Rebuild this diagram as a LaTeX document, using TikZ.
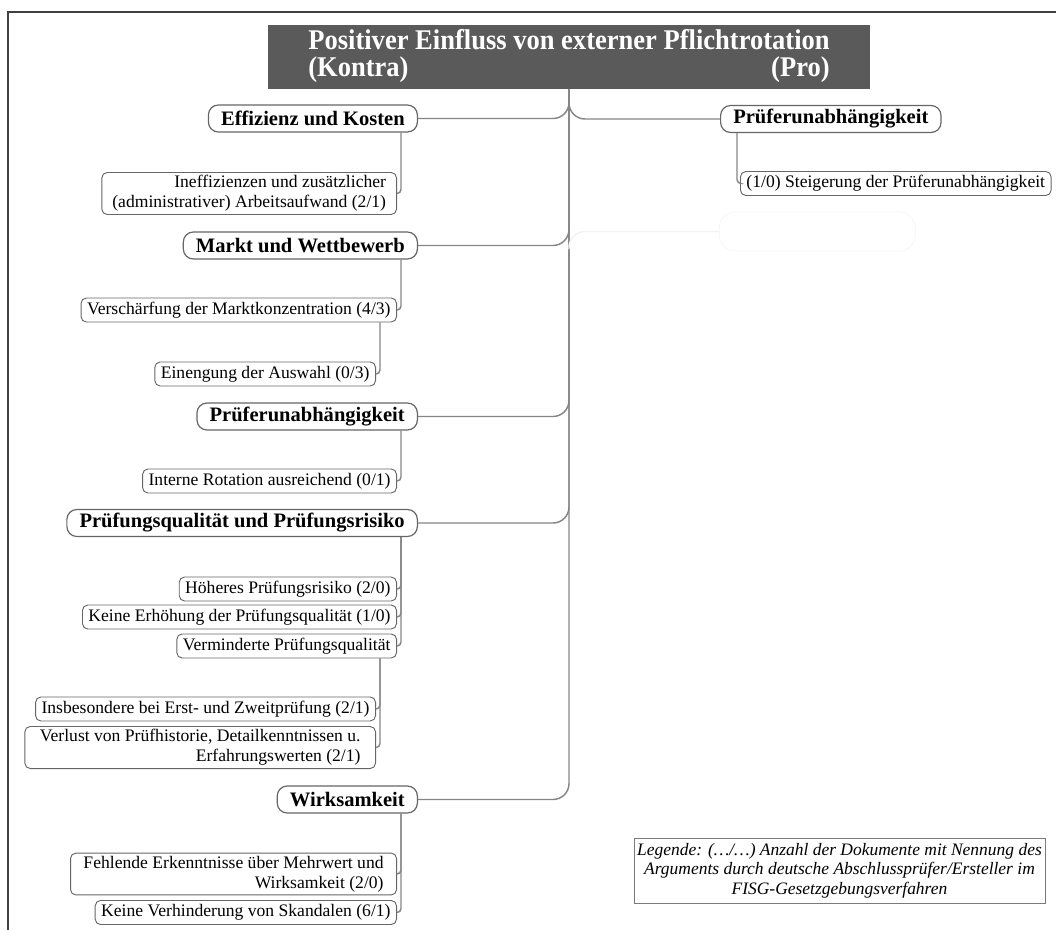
\documentclass[tikz,border=0pt]{standalone}
\usepackage{fontspec}
\usepackage{graphicx}
\setmainfont{Liberation Serif}
\usetikzlibrary{calc}

\definecolor{titlegray}{HTML}{5A5A5A}
\definecolor{framegray}{HTML}{404040}
\definecolor{boxline}{HTML}{666666}
\definecolor{linkgray}{HTML}{868686}
\definecolor{legendline}{HTML}{7A7A7A}
\definecolor{faintgray}{HTML}{F3F3F3}

\newlength\toplinewd

\tikzset{
  heading/.style={draw=boxline, line width=0.9pt, rounded corners=7.5pt, fill=white,
    font=\fontsize{15.4}{18}\selectfont\bfseries, inner xsep=9.5pt, inner ysep=0pt,
    minimum height=20.25pt},
  leaf/.style={draw=boxline, line width=0.7pt, rounded corners=4pt, fill=white,
    font=\fontsize{13.2}{15}\selectfont, inner xsep=4.5pt, inner ysep=2.2pt,
    minimum height=18pt, align=right},
  link/.style={draw=linkgray, line width=1.1pt},
  trunklink/.style={link, rounded corners=12pt},
  sublink/.style={link, rounded corners=3pt},
}

\begin{document}
\begin{tikzpicture}[x=0.75pt, y=-0.75pt]
\useasboundingbox (0,0) rectangle (1056,930);

% frame
\draw[framegray, line width=1.5pt] (8,935) -- (8,12) -- (1060,12);

% root
\node[fill=titlegray, text=white, minimum width=451.5pt, minimum height=48pt,
      inner sep=0pt, font=\fontsize{21.4}{20}\selectfont\bfseries] (title) at (569,57)
  {\scalebox{0.93}[1]{%
   \settowidth{\toplinewd}{Positiver Einfluss von externer Pflichtrotation}%
   \begin{tabular}{@{}l@{}}
   Positiver Einfluss von externer Pflichtrotation\\
   \hbox to \toplinewd{(Kontra)\hfill(Pro)}
   \end{tabular}}};

% contra side
\node[heading, anchor=east] (eff) at (418,118.5) {Effizienz und Kosten};
\node[leaf, anchor=east, minimum width=221pt] (ineff) at (397,193.5)
  {Ineffizienzen und zusätzlicher\\(administrativer) Arbeitsaufwand (2/1)};

\node[heading, anchor=east] (markt) at (418,245.5) {Markt und Wettbewerb};
\node[leaf, anchor=east] (versch) at (397,310) {Verschärfung der Marktkonzentration (4/3)};
\node[leaf, anchor=east] (eineng) at (376,374) {Einengung der Auswahl (0/3)};

\node[heading, anchor=east] (pruefL) at (418,416.5) {Prüferunabhängigkeit};
\node[leaf, anchor=east] (intern) at (397,481) {Interne Rotation ausreichend (0/1)};

\node[heading, anchor=east] (pq) at (418,523) {Prüfungsqualität und Prüfungsrisiko};
\node[leaf, anchor=east] (hoeh) at (397,589) {Höheres Prüfungsrisiko (2/0)};
\node[leaf, anchor=east] (keinE) at (397,617) {Keine Erhöhung der Prüfungsqualität (1/0)};
\node[leaf, anchor=east] (vermin) at (397,646) {Verminderte Prüfungsqualität};
\node[leaf, anchor=east] (insb) at (376,709) {Insbesondere bei Erst- und Zweitprüfung (2/1)};
\node[leaf, anchor=east, minimum width=263pt] (verlust) at (376,747.5)
  {Verlust von Prüfhistorie, Detailkenntnissen u.\\Erfahrungswerten (2/1)};

\node[heading, anchor=east] (wirk) at (418,799.5) {Wirksamkeit};
\node[leaf, anchor=east, minimum width=244.5pt] (fehl) at (397,874)
  {Fehlende Erkenntnisse über Mehrwert und\\Wirksamkeit (2/0)};
\node[leaf, anchor=east] (keinV) at (397,912.5) {Keine Verhinderung von Skandalen (6/1)};

% pro side
\node[heading, anchor=west] (pruefR) at (720,119) {Prüferunabhängigkeit};
\node[leaf, anchor=west] (steig) at (740,183.5) {(1/0) Steigerung der Prüferunabhängigkeit};
\node[draw=faintgray, rounded corners=12pt, minimum width=147pt, minimum height=29.25pt,
      inner sep=0pt, anchor=west] (spare) at (719,231.5) {};

% legend
\node[draw=legendline, line width=0.6pt, minimum width=308.25pt, minimum height=48.75pt,
      inner sep=0pt, align=center, font=\fontsize{13.1}{14.6}\selectfont\itshape]
  (legend) at (839.5,870.5)
  {Legende: (…/…) Anzahl der Dokumente mit Nennung des\\
   Arguments durch deutsche Abschlussprüfer/Ersteller im\\
   FISG-Gesetzgebungsverfahren};

% main branches
\draw[trunklink] (title.south) |- (eff.east);
\draw[trunklink] (title.south) |- (markt.east);
\draw[trunklink] (title.south) |- (pruefL.east);
\draw[trunklink] (title.south) |- (pq.east);
\draw[trunklink] (title.south) |- (wirk.east);
\draw[trunklink] (title.south) |- (pruefR.west);
\draw[trunklink, draw=faintgray] ($(title.south)+(0,160)$) |- (spare.west);

% sub branches
\draw[sublink] ($(eff.south east)+(-17,0)$) |- (ineff.east);
\draw[sublink] ($(markt.south east)+(-17,0)$) |- (versch.east);
\draw[sublink] ($(versch.south east)+(-17,0)$) |- (eineng.east);
\draw[sublink] ($(pruefL.south east)+(-17,0)$) |- (intern.east);
\draw[sublink] ($(pq.south east)+(-17,0)$) |- (hoeh.east);
\draw[sublink] ($(pq.south east)+(-17,0)$) |- (keinE.east);
\draw[sublink] ($(pq.south east)+(-17,0)$) |- (vermin.east);
\draw[sublink] ($(vermin.south east)+(-17,0)$) |- (insb.east);
\draw[sublink] ($(vermin.south east)+(-17,0)$) |- (verlust.east);
\draw[sublink] ($(wirk.south east)+(-17,0)$) |- (fehl.east);
\draw[sublink] ($(wirk.south east)+(-17,0)$) |- (keinV.east);
\draw[sublink] ($(pruefR.south west)+(17,0)$) |- (steig.west);
\end{tikzpicture}
\end{document}
